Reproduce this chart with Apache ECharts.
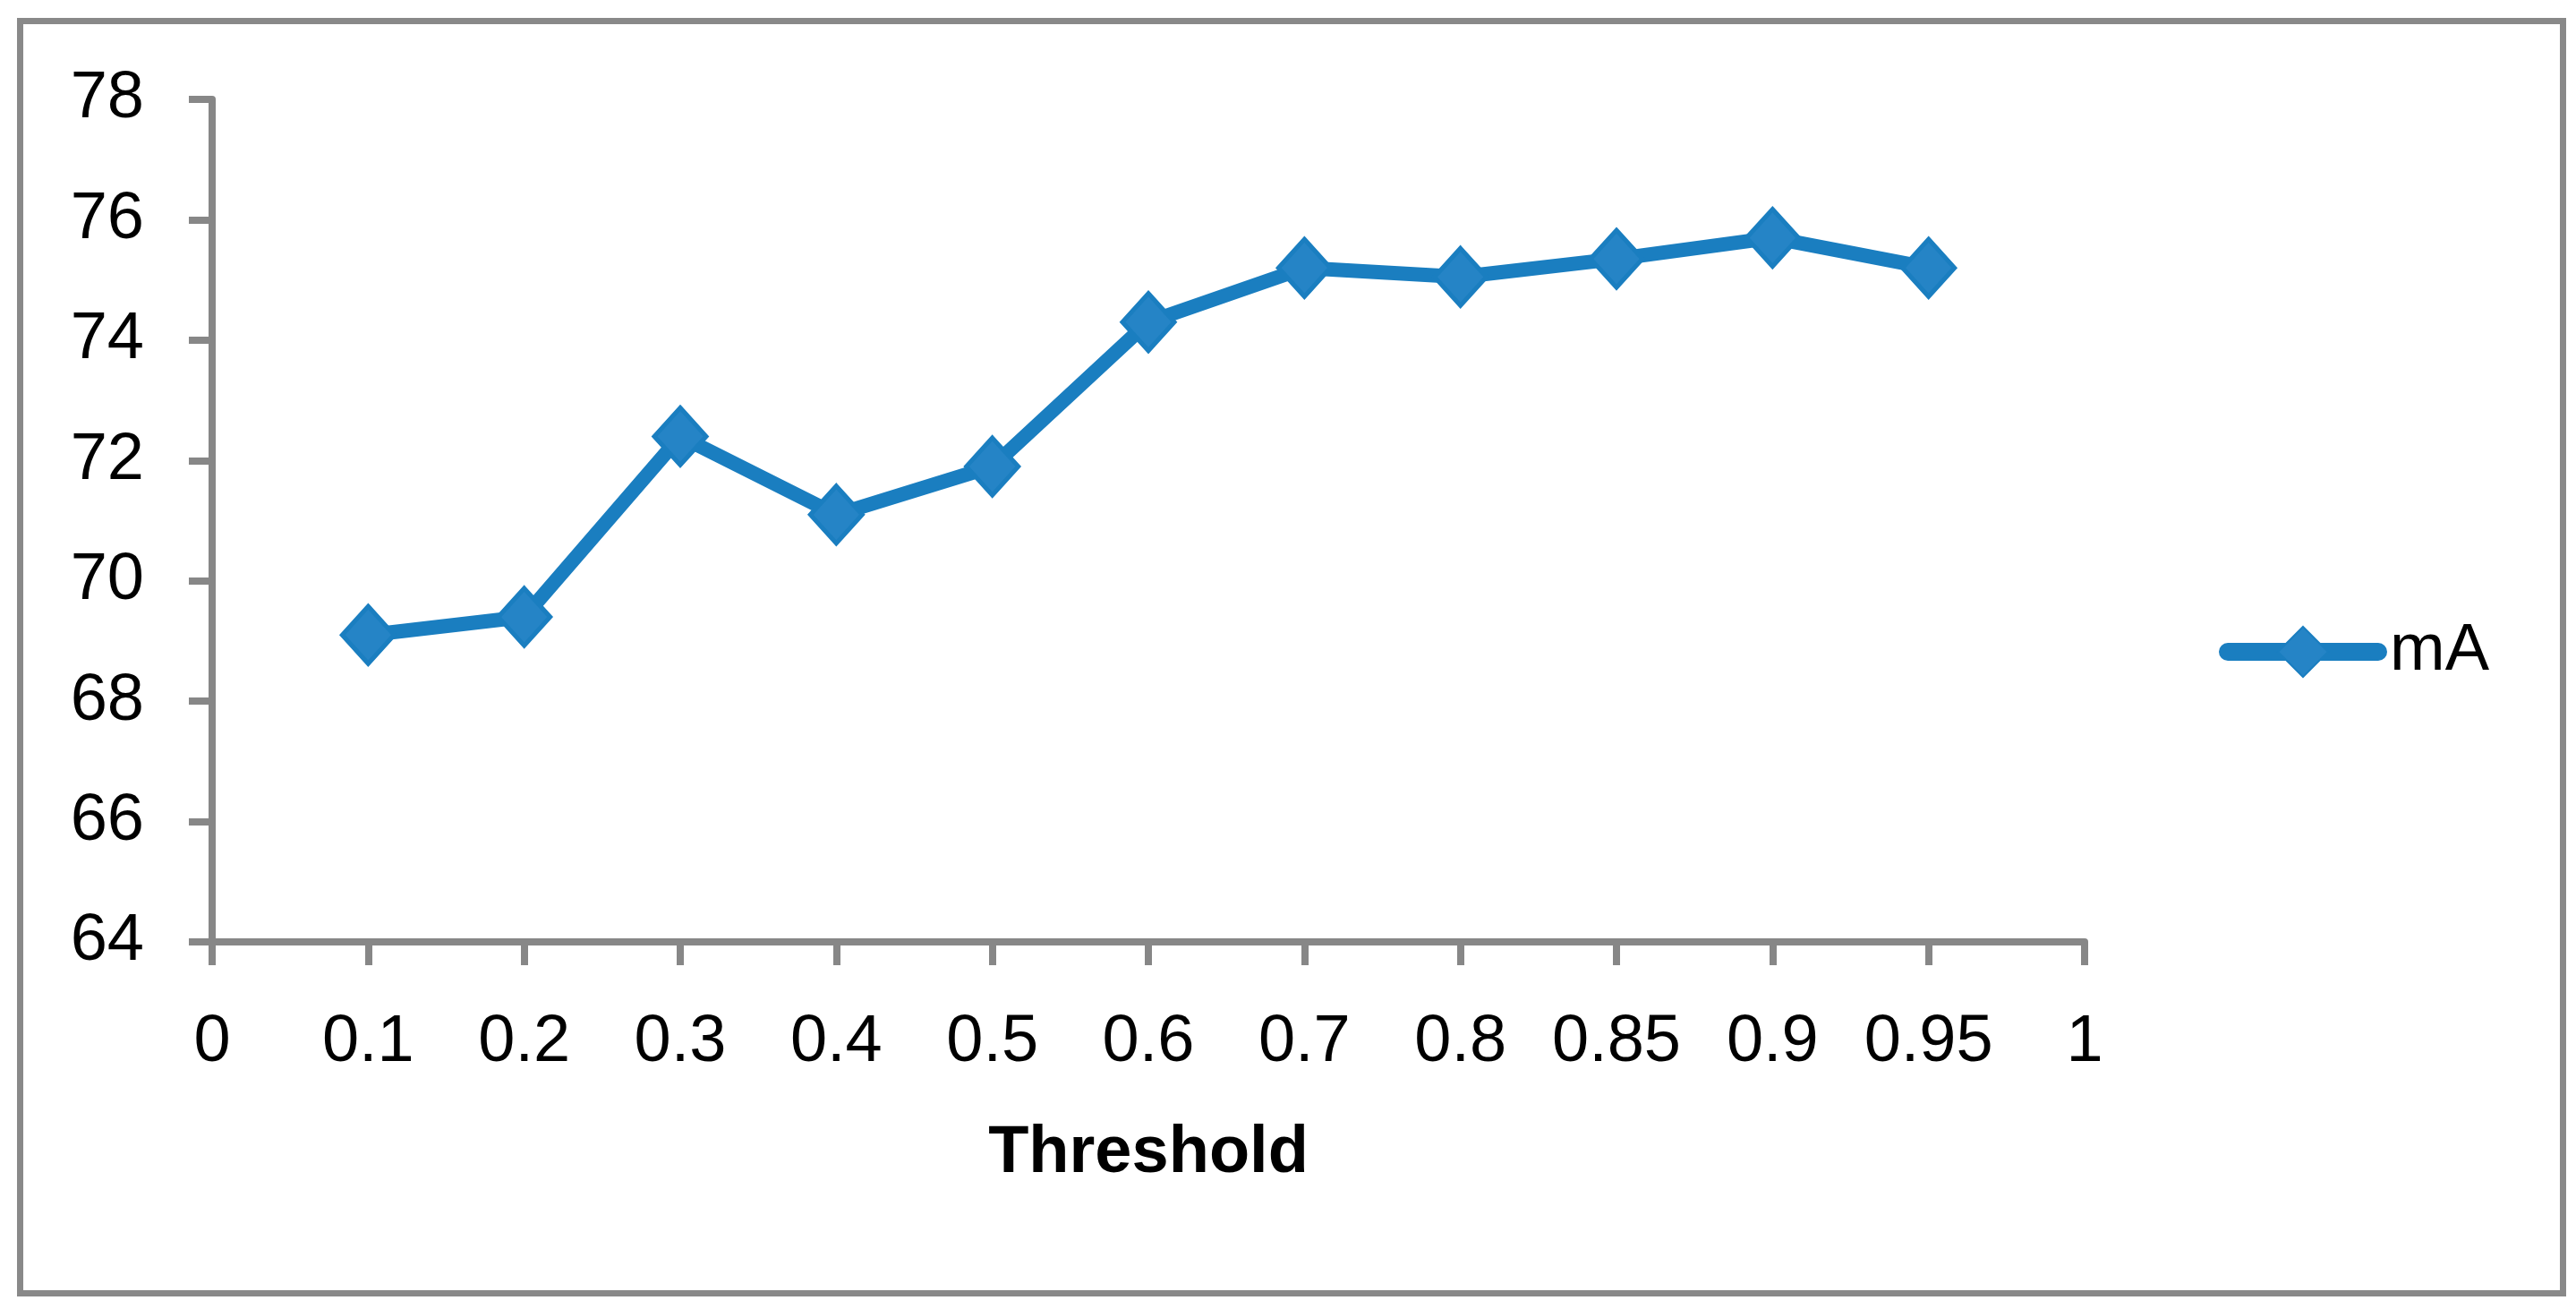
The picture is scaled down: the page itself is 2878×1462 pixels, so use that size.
<!DOCTYPE html>
<html>
<head>
<meta charset="utf-8">
<title>mA vs Threshold</title>
<script src="https://cdn.jsdelivr.net/npm/echarts@6/dist/echarts.min.js"></script>
<style>
  html, body { margin: 0; padding: 0; background: #ffffff; }
  #frame {
    position: absolute;
    left: 19px; top: 20px;
    width: 2834px; height: 1414px;
    border: 7px solid #898989;
  }
  #chart { position: absolute; left: 0; top: 0; width: 2878px; height: 1462px; }
</style>
</head>
<body>
<div id="frame"></div>
<div id="chart"></div>
<script>
// threshold categories (0 and 1 only carry a tick label)
const thresholds = ['0', '0.1', '0.2', '0.3', '0.4', '0.5', '0.6', '0.7', '0.8', '0.85', '0.9', '0.95', '1']
// mA values
const maValues = [null, 69.1, 69.4, 72.4, 71.1, 71.9, 74.3, 75.2, 75.05, 75.35, 75.7, 75.2, null]
const yMin = 64
const yMax = 78
const yStep = 2

const axisGray = '#878787'
const lineBlue = '#1a7ec0'
const markerBlue = '#2584c6'
const fontName = 'Liberation Sans, Arial, sans-serif'

const myChart = echarts.init(document.getElementById('chart'))
const option = {
  animation: false,
  grid: {
    left: 237,
    right: 549,
    top: 111,
    bottom: 410,
    containLabel: false
  },
  legend: {
    left: 2474,
    top: 686,
    itemWidth: 168,
    itemHeight: 70,
    itemGap: 10,
    textStyle: {
      color: '#000',
      fontSize: 74,
      fontFamily: fontName,
      padding: [0, 0, 0, 8]
    },
    lineStyle: {
      width: 20,
      cap: 'round'
    },
    data: ['mA']
  },
  xAxis: {
    type: 'category',
    data: thresholds,
    boundaryGap: false,
    name: 'Threshold',
    nameLocation: 'middle',
    nameGap: 200,
    nameTextStyle: {
      color: '#000',
      fontSize: 74,
      fontWeight: 'bold',
      fontFamily: fontName
    },
    axisLine: {
      show: true,
      lineStyle: { color: axisGray, width: 8 }
    },
    axisTick: {
      show: true,
      alignWithLabel: true,
      length: 26,
      lineStyle: { color: axisGray, width: 8 }
    },
    axisLabel: {
      color: '#000',
      fontSize: 74,
      fontFamily: fontName,
      margin: 76,
      interval: 0
    },
    splitLine: { show: false }
  },
  yAxis: {
    type: 'value',
    min: yMin,
    max: yMax,
    interval: yStep,
    axisLine: {
      show: true,
      lineStyle: { color: axisGray, width: 8 }
    },
    axisTick: {
      show: true,
      length: 26,
      lineStyle: { color: axisGray, width: 8 }
    },
    axisLabel: {
      color: '#000',
      fontSize: 74,
      fontFamily: fontName,
      margin: 76
    },
    splitLine: { show: false }
  },
  series: [
    {
      name: 'mA',
      type: 'line',
      data: maValues,
      connectNulls: false,
      symbol: 'diamond',
      symbolSize: [58, 64],
      lineStyle: { color: lineBlue, width: 16 },
      itemStyle: {
        color: markerBlue,
        borderColor: lineBlue,
        borderWidth: 5
      }
    }
  ]
}
myChart.setOption(option)
</script>
</body>
</html>
